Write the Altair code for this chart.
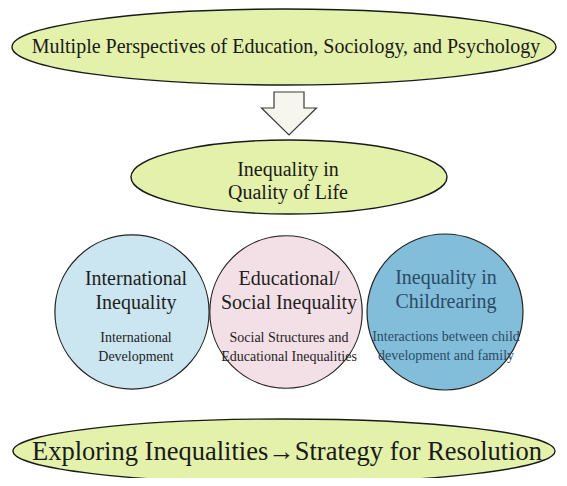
import altair as alt
import pandas as pd

# ---- ellipses (green) ----
ell_text = ["Multiple Perspectives of Education, Sociology, and Psychology",
            "Inequality in\nQuality of Life",
            "Exploring Inequalities\u2192Strategy for Resolution"]
ell_cx = [284, 289, 284]
ell_cy = [47, 177, 451]
ell_rx = [272, 158, 271]
ell_ry = [38, 37, 32]
ell_text_x = [286, 288, 287]
ell_text_y = [47, 170, 452]
ell_font = [20, 20, 26.5]

# ---- circles ----
circ_title = ["International\nInequality", "Educational/\nSocial Inequality", "Inequality in\nChildrearing"]
circ_sub = ["International\nDevelopment", "Social Structures and\nEducational Inequalities",
            "Interactions between child\ndevelopment and family"]
circ_cx = [132, 286, 445]
circ_cy = [312, 312, 312]
circ_r = [87, 86, 88]
circ_fill = ["#cbe6f0", "#f3dfe6", "#82bed9"]
circ_text_x = [136, 289, 446]
circ_title_y = [279, 279, 278]
circ_sub_y = [338, 338, 337]
circ_color = ["#1e1e1e", "#1e1e1e", "#2c4a68"]

# ---- arrow ----
arrow_cx = [289]
arrow_cy = [113]

FONT = "'Liberation Serif', 'Times New Roman', Times, 'DejaVu Serif', serif"
K = 0.5523


def ellipse_path(a):
    return (f"M-1,0 C-1,{-K*a:.4f} {-K:.4f},{-a:.4f} 0,{-a:.4f} "
            f"C{K:.4f},{-a:.4f} 1,{-K*a:.4f} 1,0 "
            f"C1,{K*a:.4f} {K:.4f},{a:.4f} 0,{a:.4f} "
            f"C{-K:.4f},{a:.4f} -1,{K*a:.4f} -1,0 Z")


ell = pd.DataFrame({
    "cx": ell_cx, "cy": ell_cy,
    "size": [(2 * r) ** 2 for r in ell_rx],
    "path": [ellipse_path(ry / rx) for rx, ry in zip(ell_rx, ell_ry)],
    "text": ell_text, "tx": ell_text_x, "ty": ell_text_y, "font": ell_font,
})

circ = pd.DataFrame({
    "cx": circ_cx, "cy": circ_cy,
    "size": [3.14159 * r * r for r in circ_r],
    "fill": circ_fill, "order": [0, 1, 2],
    "title": circ_title, "sub": circ_sub,
    "tx": circ_text_x, "ty": circ_title_y, "sy": circ_sub_y, "col": circ_color,
})

s = 27.5
arrow_path = (f"M{-15/s:.4f},{-21/s:.4f} L{15/s:.4f},{-21/s:.4f} L{15/s:.4f},{-5/s:.4f} "
              f"L1,{-5/s:.4f} L0,{22/s:.4f} L-1,{-5/s:.4f} L{-15/s:.4f},{-5/s:.4f} Z")
arr = pd.DataFrame({"cx": arrow_cx, "cy": arrow_cy, "size": [(2 * s) ** 2]})

X = alt.Scale(domain=[8, 559])
Y = alt.Scale(domain=[8, 478], reverse=True)


def xy(xf="cx", yf="cy"):
    return dict(x=alt.X(f"{xf}:Q", scale=X, axis=None),
                y=alt.Y(f"{yf}:Q", scale=Y, axis=None))


ell_layer = alt.Chart(ell).mark_point(filled=True, fill="#e3f1ab", stroke="#1a1a1a",
                                      strokeWidth=1.4, opacity=1).encode(
    **xy(), size=alt.Size("size:Q", scale=None, legend=None),
    shape=alt.Shape("path:N", scale=None, legend=None))

arr_layer = alt.Chart(arr).mark_point(filled=True, fill="#f6f6ee", stroke="#3a3a3a",
                                      strokeWidth=1.2, opacity=1, shape=arrow_path).encode(
    **xy(), size=alt.Size("size:Q", scale=None, legend=None))

circ_layer = alt.Chart(circ).mark_circle(stroke="#222222", strokeWidth=1.2, opacity=1).encode(
    **xy(), size=alt.Size("size:Q", scale=None, legend=None),
    fill=alt.Fill("fill:N", scale=None, legend=None),
    order=alt.Order("order:Q"))

ell_text_layers = []
for i in range(len(ell_text)):
    ell_text_layers.append(
        alt.Chart(ell.iloc[[i]]).mark_text(font=FONT, fontSize=ell_font[i],
                                           color="#1a1a1a", lineBreak="\n", lineHeight=23,
                                           align="center", baseline="middle").encode(
            **xy("tx", "ty"), text="text:N"))
circ_title_layer = alt.Chart(circ).mark_text(font=FONT, fontSize=20, lineBreak="\n",
                                             lineHeight=24, align="center", baseline="middle").encode(
    **xy("tx", "ty"), text="title:N", color=alt.Color("col:N", scale=None, legend=None))
circ_sub_layer = alt.Chart(circ).mark_text(font=FONT, fontSize=14, lineBreak="\n",
                                           lineHeight=19, align="center", baseline="middle").encode(
    **xy("tx", "sy"), text="sub:N", color=alt.Color("col:N", scale=None, legend=None))

chart = alt.layer(ell_layer, arr_layer, circ_layer, *ell_text_layers,
                  circ_title_layer, circ_sub_layer).properties(
    width=551, height=470, autosize=alt.AutoSizeParams(type="none"), padding=0,
    background="white").configure_view(stroke=None)

chart.save("out.html", embed_options={"renderer": "svg", "actions": False})
